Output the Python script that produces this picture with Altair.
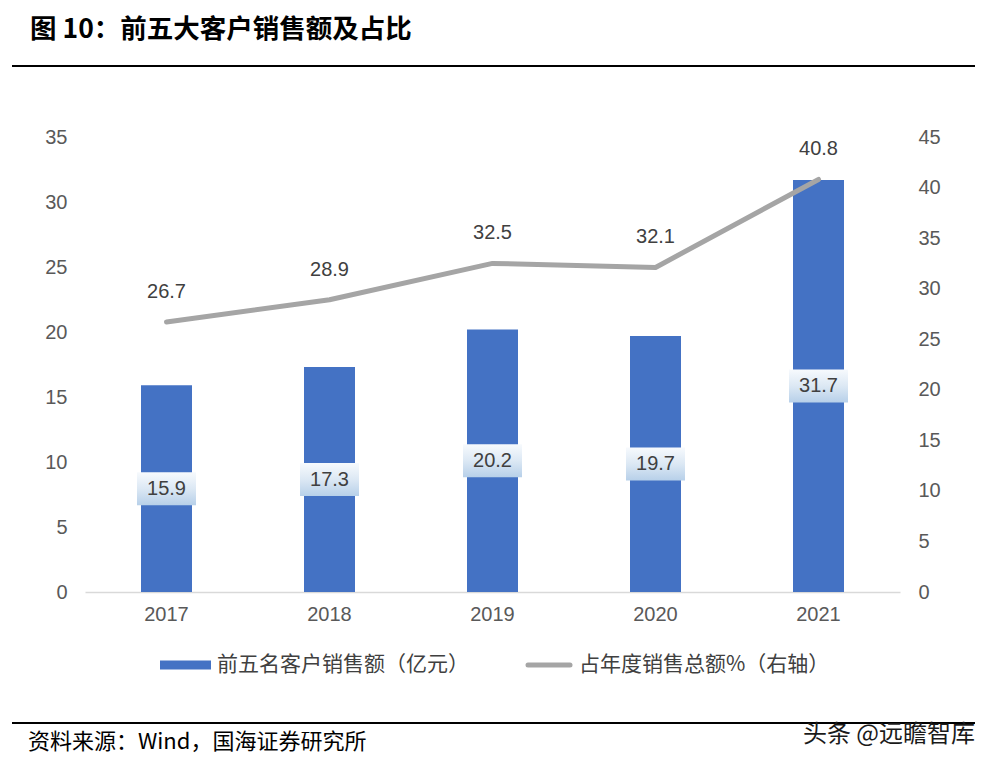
import altair as alt
import pandas as pd

years = ["2017", "2018", "2019", "2020", "2021"]
sales = [15.9, 17.3, 20.2, 19.7, 31.7]
share = [26.7, 28.9, 32.5, 32.1, 40.8]
left_ticks = [0, 5, 10, 15, 20, 25, 30, 35]
right_ticks = [0, 5, 10, 15, 20, 25, 30, 35, 40, 45]

title_text = "图 10：前五大客户销售额及占比"
legend_bar = "前五名客户销售额（亿元）"
legend_line = "占年度销售总额%（右轴）"
source_text = "资料来源：Wind，国海证券研究所"
watermark = "头条 @远瞻智库"

df = pd.DataFrame({"year": years, "sales": sales, "share": share})
one = pd.DataFrame({"a": [0]})

W, H = 815, 455
FONT = "Liberation Sans"
CJK = "Noto Sans CJK SC"
BLUE = "#4472C4"
GRAY = "#A5A5A5"

xenc = alt.X("year:N", scale=alt.Scale(paddingInner=0, paddingOuter=0),
             axis=alt.Axis(title=None, labelAngle=0, labelFontSize=20, labelColor="#595959",
                           labelFont=FONT, ticks=False, domainColor="#D9D9D9",
                           domainWidth=1.5, labelPadding=12))

base = alt.Chart(df)

bars = base.mark_bar(size=51, color=BLUE).encode(
    x=xenc,
    y=alt.Y("sales:Q", scale=alt.Scale(domain=[0, 35], nice=False),
            axis=alt.Axis(title=None, values=left_ticks, grid=False, domain=False, ticks=False,
                          labelFontSize=20, labelColor="#595959", labelFont=FONT, labelPadding=18)),
)

grad = alt.Gradient(gradient="linear", x1=0, y1=0, x2=0, y2=1,
                    stops=[alt.GradientStop(color="#F7FAFD", offset=0),
                           alt.GradientStop(color="#DCE8F4", offset=0.5),
                           alt.GradientStop(color="#B7D0E9", offset=1)])

boxes = base.transform_calculate(mid="datum.sales / 2").mark_tick(
    size=59, thickness=33, fill=grad, stroke=None, opacity=1, filled=True
).encode(x=alt.X("year:N"), y=alt.Y("mid:Q"))

bar_text = base.transform_calculate(mid="datum.sales / 2").mark_text(
    fontSize=20, font=FONT, color="#404040", baseline="middle"
).encode(x=alt.X("year:N"), y=alt.Y("mid:Q"), text=alt.Text("sales:Q", format=".1f"))

left_layer = alt.layer(bars, boxes, bar_text)

line = base.mark_line(color=GRAY, strokeWidth=5, strokeCap="round", strokeJoin="round").encode(
    x=alt.X("year:N"),
    y=alt.Y("share:Q", scale=alt.Scale(domain=[0, 45], nice=False),
            axis=alt.Axis(title=None, orient="right", values=right_ticks, grid=False, domain=False,
                          ticks=False, labelFontSize=20, labelColor="#595959", labelFont=FONT,
                          labelPadding=18)),
)
line_text = base.mark_text(fontSize=20, font=FONT, color="#404040", dy=-30, baseline="middle").encode(
    x=alt.X("year:N"), y=alt.Y("share:Q"), text=alt.Text("share:Q", format=".1f"))

right_layer = alt.layer(line, line_text)

deco = alt.Chart(one)
title = deco.mark_text(text=title_text, font=CJK, fontSize=26.5, fontWeight="bold", color="#000000",
                       align="left", baseline="middle").encode(x=alt.value(-55), y=alt.value(-107))
top_rule = deco.mark_rule(color="#000000", strokeWidth=2).encode(
    x=alt.value(-73), x2=alt.value(890), y=alt.value(-71))
bottom_rule = deco.mark_rule(color="#000000", strokeWidth=2).encode(
    x=alt.value(-73), x2=alt.value(890), y=alt.value(586))
source = deco.mark_text(text=source_text, font=CJK, fontSize=22, color="#000000",
                        align="left", baseline="middle").encode(x=alt.value(-57), y=alt.value(605))
wm = deco.mark_text(text=watermark, font=CJK, fontSize=24, color="#1A1A1A",
                    align="right", baseline="middle").encode(x=alt.value(890), y=alt.value(598))
leg1 = deco.mark_rule(color=BLUE, strokeWidth=9, strokeCap="butt").encode(
    x=alt.value(75), x2=alt.value(126), y=alt.value(528))
leg1t = deco.mark_text(text=legend_bar, font=CJK, fontSize=21, color="#404040",
                       align="left", baseline="middle").encode(x=alt.value(132), y=alt.value(528))
leg2 = deco.mark_rule(color=GRAY, strokeWidth=5, strokeCap="round").encode(
    x=alt.value(443), x2=alt.value(485), y=alt.value(528))
leg2t = deco.mark_text(text=legend_line, font=CJK, fontSize=21, color="#404040",
                       align="left", baseline="middle").encode(x=alt.value(494), y=alt.value(528))

chart = alt.layer(
    alt.layer(left_layer, right_layer).resolve_scale(y="independent"),
    title, top_rule, bottom_rule, source, wm, leg1, leg1t, leg2, leg2t,
).properties(
    width=W, height=H,
    autosize=alt.AutoSizeParams(type="none"),
    padding={"left": 77, "top": 129, "right": 80, "bottom": 170},
).configure_view(stroke=None)

chart.save("out.html", embed_options={"renderer": "svg", "actions": False})
